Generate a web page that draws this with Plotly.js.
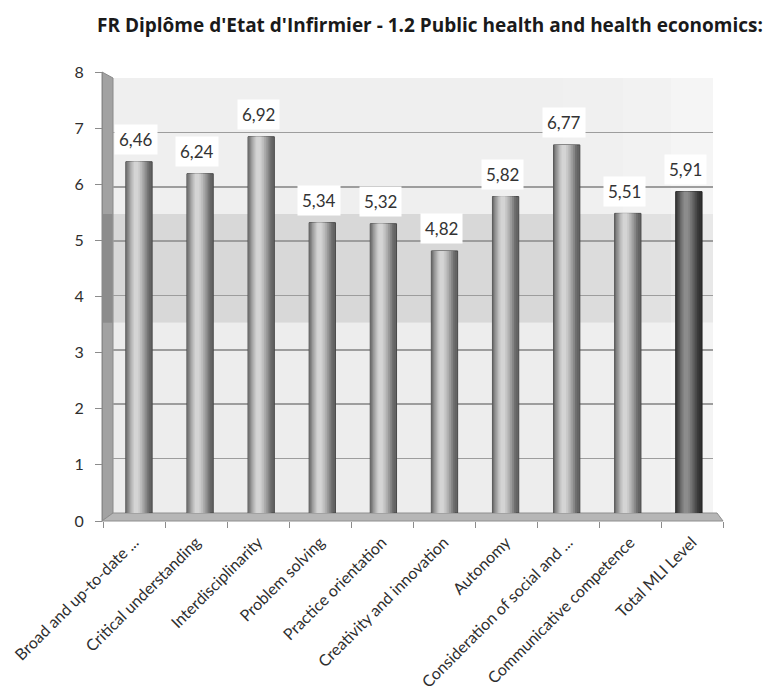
<!DOCTYPE html>
<html>
<head>
<meta charset="utf-8">
<script src="https://cdn.plot.ly/plotly-3.0.1.min.js"></script>
<style>
  html, body { margin: 0; padding: 0; background: #fff; overflow: hidden; }
  #chart { width: 767px; height: 698px; }
</style>
</head>
<body>
<div id="chart"></div>
<script>
// Chart data
const chartTitle = "FR Diplôme d'Etat d'Infirmier - 1.2 Public health and health economics:";
const categories = [
  "Broad and up-to-date ...",
  "Critical understanding",
  "Interdisciplinarity",
  "Problem solving",
  "Practice orientation",
  "Creativity and innovation",
  "Autonomy",
  "Consideration of social and ...",
  "Communicative competence",
  "Total MLI Level"
];
const scores = [6.46, 6.24, 6.92, 5.34, 5.32, 4.82, 5.82, 6.77, 5.51, 5.91];
const yTickValues = [0, 1, 2, 3, 4, 5, 6, 7, 8];
const totalCategory = "Total MLI Level";

// Page geometry (pixels)
const W = 767, H = 698;
const front = { left: 103, right: 723, top: 72, bottom: 521 };   // front frame of the 3D box
const back  = { left: 113, right: 713, top: 78, bottom: 513 };   // back wall
const firstBarCenter = 139, barPitch = 61.1, barWidth = 0.43;

const fw = front.right - front.left, fh = front.bottom - front.top;
const fx = px => (px - front.left) / fw;
const fy = py => (front.bottom - py) / fh;

// inner category range so bars sit in the middle of the box depth
const r0 = -(firstBarCenter - back.left) / barPitch;
const r1 = r0 + (back.right - back.left) / barPitch;

const fmt = v => v.toFixed(2).replace('.', ',');
const isTotal = categories.map(c => c === totalCategory);

// cylinder shading: nested bars, lighter towards the highlight
const hl = -barWidth / 2 + 0.38 * barWidth;          // highlight position
const leftExt = hl + barWidth / 2, rightExt = barWidth / 2 - hl;
const layers = [
  { k: 1.00, c: [112, 112, 112], d: [56, 56, 56] },
  { k: 0.86, c: [134, 134, 134], d: [72, 72, 72] },
  { k: 0.72, c: [154, 154, 154], d: [88, 88, 88] },
  { k: 0.58, c: [172, 172, 172], d: [104, 104, 104] },
  { k: 0.45, c: [188, 188, 188], d: [118, 118, 118] },
  { k: 0.32, c: [201, 201, 201], d: [130, 130, 130] },
  { k: 0.19, c: [212, 212, 212], d: [140, 140, 140] }
];
const rgb = a => `rgb(${a[0]},${a[1]},${a[2]})`;

const traces = [];
// dark right side of each cylinder (full width body)
traces.push({
  type: 'bar', x: categories, y: scores, xaxis: 'x2', yaxis: 'y2',
  width: barWidth, offset: -barWidth / 2,
  marker: { color: isTotal.map(t => t ? 'rgb(50,50,50)' : 'rgb(100,100,100)'),
            line: { color: isTotal.map(t => t ? 'rgb(35,35,35)' : 'rgb(72,72,72)'), width: 1 } },
  hoverinfo: 'skip', showlegend: false
});
layers.forEach((L, i) => {
  const kl = L.k, kr = L.k * 0.82;
  const off = i === 0 ? -barWidth / 2 : hl - leftExt * kl;
  const wid = i === 0 ? leftExt + rightExt * 0.82 : leftExt * kl + rightExt * kr;
  traces.push({
    type: 'bar', x: categories, y: scores, xaxis: 'x2', yaxis: 'y2',
    width: wid, offset: off,
    marker: { color: isTotal.map(t => rgb(t ? L.d : L.c)), line: { width: 0 } },
    hoverinfo: 'skip', showlegend: false
  });
});
// carrier for the front axes
traces.push({
  type: 'scatter', mode: 'none', x: categories, y: scores,
  xaxis: 'x', yaxis: 'y', hoverinfo: 'skip', showlegend: false
});

const shapes = [];
// back wall colour bands
[[0, 3.5, '#ededed'], [3.5, 5.5, '#d8d8d8'], [5.5, 8, '#efefef']].forEach(b => {
  shapes.push({ type: 'rect', layer: 'below', xref: 'x2 domain', yref: 'y2',
    x0: 0, x1: 1, y0: b[0], y1: b[1], fillcolor: b[2], line: { width: 0 } });
});
// light fade towards the right of the wall
[[0.75, 0.1], [0.85, 0.15], [0.93, 0.25]].forEach(f => {
  shapes.push({ type: 'rect', layer: 'below', xref: 'x2 domain', yref: 'y2',
    x0: f[0], x1: 1, y0: 0, y1: 8, fillcolor: 'rgba(255,255,255,' + f[1] + ')', line: { width: 0 } });
});
// left side wall
const wallPath = `M ${fx(102)} ${fy(front.top)} L ${fx(back.left)} ${fy(back.top)} L ${fx(back.left)} ${fy(back.bottom)} L ${fx(102)} ${fy(front.bottom)} Z`;
shapes.push({ type: 'path', layer: 'between', xref: 'paper', yref: 'paper',
  path: wallPath, fillcolor: '#a2a2a2', line: { color: '#8a8a8a', width: 1 } });
shapes.push({ type: 'rect', layer: 'between', xref: 'paper', yref: 'y2',
  x0: fx(102.5), x1: fx(back.left - 0.5), y0: 3.5, y1: 5.5, fillcolor: '#8c8c8c', line: { width: 0 } });
// floor
const floorPath = `M ${fx(102)} ${fy(front.bottom)} L ${fx(front.right)} ${fy(front.bottom)} L ${fx(back.right + 4)} ${fy(back.bottom)} L ${fx(back.left)} ${fy(back.bottom)} Z`;
shapes.push({ type: 'path', layer: 'between', xref: 'paper', yref: 'paper',
  path: floorPath, fillcolor: '#b6b6b6', line: { color: '#8e8e8e', width: 1 } });

// value labels
const annotations = categories.map((c, i) => ({
  xref: 'x2', yref: 'y2', x: c, y: scores[i], text: fmt(scores[i]),
  showarrow: false, xanchor: 'center', yanchor: 'middle', yshift: 22, xshift: -3,
  bgcolor: '#ffffff', borderpad: 4,
  font: { family: 'Lato, sans-serif', size: 17, color: '#333333' }
}));

const layout = {
  width: W, height: H,
  margin: { l: front.left, r: W - front.right, t: front.top, b: H - front.bottom, pad: 0 },
  paper_bgcolor: '#ffffff', plot_bgcolor: 'rgba(0,0,0,0)',
  barmode: 'overlay', showlegend: false,
  title: {
    text: '<b>' + chartTitle + '</b>', xref: 'container', yref: 'container',
    x: 97 / W, xanchor: 'left', y: 1 - 25 / H, yanchor: 'middle',
    font: { family: '"Open Sans", sans-serif', size: 19, color: '#1a1a1a' }
  },
  xaxis: {
    type: 'category', range: [-0.5, categories.length - 0.5],
    tickson: 'boundaries', ticks: 'outside', ticklen: 6, tickcolor: '#8c8c8c', tickwidth: 1,
    showline: false, showgrid: false, zeroline: false, tickangle: -45,
    ticklabelstandoff: 8,
    tickfont: { family: 'Lato, sans-serif', size: 16, color: '#2e2e2e' },
    fixedrange: true
  },
  yaxis: {
    range: [0, 8], tickvals: yTickValues, ticktext: yTickValues.map(String),
    ticks: 'outside', ticklen: 7, tickcolor: '#8c8c8c', tickwidth: 1,
    showline: true, linecolor: '#8a8a8a', linewidth: 1,
    showgrid: false, zeroline: false, ticklabelstandoff: 8,
    tickfont: { family: 'Lato, sans-serif', size: 16, color: '#2e2e2e' },
    fixedrange: true
  },
  xaxis2: {
    type: 'category', anchor: 'y2', range: [r0, r1],
    domain: [fx(back.left), fx(back.right)],
    showticklabels: false, ticks: '', showgrid: false, zeroline: false, showline: false,
    fixedrange: true
  },
  yaxis2: {
    anchor: 'x2', range: [0, 8], tickvals: yTickValues,
    domain: [fy(back.bottom), fy(back.top)],
    showticklabels: false, ticks: '', showgrid: true, gridcolor: '#9d9d9d', gridwidth: 1.6,
    zeroline: false, showline: false, fixedrange: true
  },
  shapes: shapes,
  annotations: annotations
};

Plotly.newPlot('chart', traces, layout, { displayModeBar: false, staticPlot: true });
</script>
</body>
</html>
